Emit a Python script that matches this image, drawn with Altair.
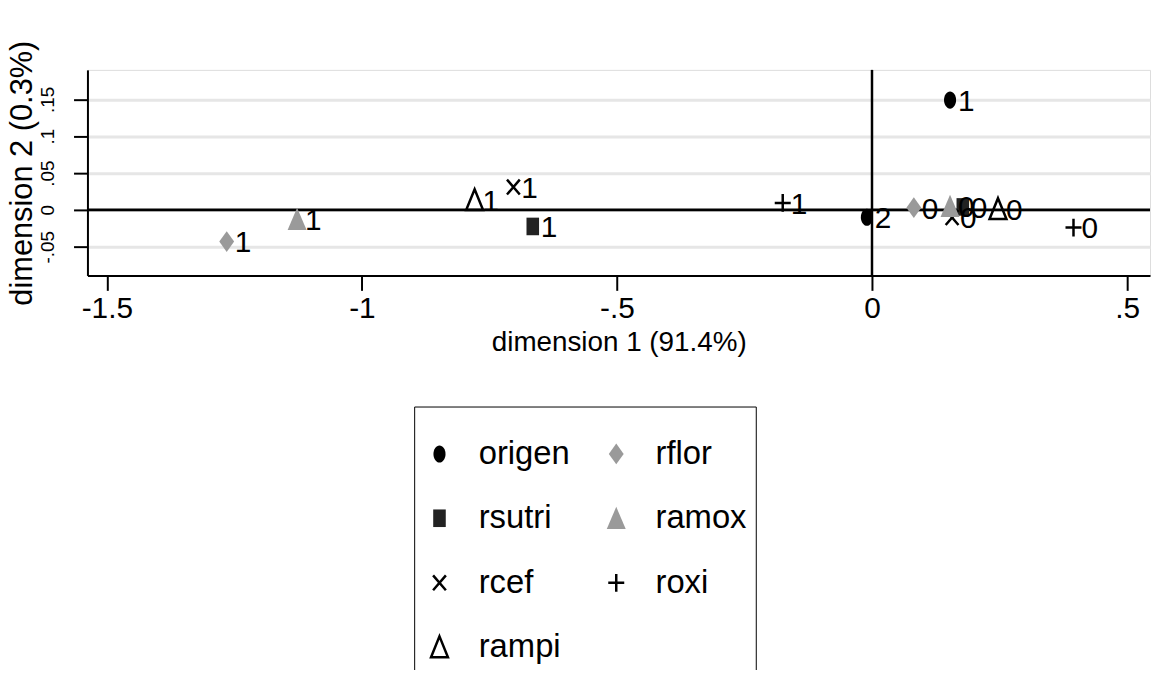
import altair as alt
import pandas as pd

# ---- data ----
series = ["origen", "origen", "rsutri", "rsutri", "rcef", "rcef", "rampi", "rampi",
          "rflor", "rflor", "ramox", "ramox", "roxi", "roxi"]
point_labels = ["1", "2", "1", "0", "1", "0", "1", "0", "1", "0", "1", "0", "1", "0"]
dim1 = [0.153, -0.010, -0.665, 0.178, -0.703, 0.157, -0.779, 0.247,
        -1.265, 0.082, -1.127, 0.153, -0.175, 0.395]
dim2 = [0.149, -0.010, -0.0225, 0.004, 0.031, -0.0104, 0.013, 0.001,
        -0.043, 0.003, -0.0125, 0.005, 0.0094, -0.024]

legend_order = ["origen", "rsutri", "rcef", "rampi", "rflor", "ramox", "roxi"]

x_ticks = [-1.5, -1, -0.5, 0, 0.5]
x_tick_labels = ["-1.5", "-1", "-.5", "0", ".5"]
y_ticks = [-0.05, 0, 0.05, 0.1, 0.15]
y_tick_labels = ["-.05", "0", ".05", ".1", ".15"]

x_title = "dimension 1 (91.4%)"
y_title = "dimension 2 (0.3%)"

# ---- styling ----
FONT = "Liberation Sans"
SYM = 529  # symbol size; paths below are drawn relative to it

shape_map = {
    "origen": "M-0.53,0A0.53,0.75,0,1,1,0.53,0A0.53,0.75,0,1,1,-0.53,0Z",
    "rsutri": "M-0.55,-0.77L0.55,-0.77L0.55,0.77L-0.55,0.77Z",
    "rcef": "M-0.56,-0.65L0.56,0.65M0.56,-0.65L-0.56,0.65",
    "rampi": "M0,-0.96L0.74,0.86L-0.74,0.86Z",
    "rflor": "M0,-0.91L0.65,0L0,0.91L-0.65,0Z",
    "ramox": "M0,-1L0.83,0.95L-0.83,0.95Z",
    "roxi": "M-0.7,0L0.7,0M0,-0.78L0,0.78",
}
fill_map = {"origen": "#000000", "rsutri": "#222222", "rcef": "transparent",
            "rampi": "transparent", "rflor": "#9a9a9a", "ramox": "#9a9a9a",
            "roxi": "transparent"}
stroke_map = {"origen": "transparent", "rsutri": "transparent", "rcef": "#000000",
              "rampi": "#000000", "rflor": "transparent", "ramox": "transparent",
              "roxi": "#000000"}

df = pd.DataFrame({"series": series, "lab": point_labels, "d1": dim1, "d2": dim2})
one = pd.DataFrame({"k": [0]})


def label_expr(vals, labs):
    e = "''"
    for v, l in reversed(list(zip(vals, labs))):
        e = f"abs(datum.value - ({v})) < 1e-9 ? '{l}' : {e}"
    return e


xscale = alt.Scale(domain=[-1.538, 0.545], nice=False, zero=False)
yscale = alt.Scale(domain=[-0.089, 0.19], nice=False, zero=False)

xaxis = alt.Axis(values=x_ticks, labelExpr=label_expr(x_ticks, x_tick_labels),
                 grid=False, domainColor="black", domainWidth=2, tickColor="black",
                 tickWidth=2, tickSize=15, labelFont=FONT, labelFontSize=30,
                 labelColor="black", labelPadding=3, labelFlush=False,
                 title=x_title, titleFont=FONT, titleFontSize=28,
                 titleFontWeight="normal", titleColor="black", titlePadding=6)
yaxis = alt.Axis(values=y_ticks, labelExpr=label_expr(y_ticks, y_tick_labels),
                 grid=True, gridColor="#e6e6e6", gridWidth=3,
                 domainColor="black", domainWidth=2, tickColor="black",
                 tickWidth=2, tickSize=14, labelFont=FONT, labelFontSize=19,
                 labelColor="black", labelAngle=-90, labelAlign="center",
                 labelBaseline="bottom", labelPadding=16, labelFlush=False,
                 title=y_title, titleFont=FONT, titleFontSize=31,
                 titleFontWeight="normal", titleColor="black", titlePadding=0)

leg = alt.Legend(title=" ", titleFontSize=16, titlePadding=6,
                 orient="none", legendX=329, legendY=339, columns=2,
                 strokeColor="black", padding=9, symbolSize=SYM,
                 symbolStrokeWidth=2.5, symbolOpacity=1,
                 labelFont=FONT, labelFontSize=33, labelColor="black",
                 labelOffset=23, rowPadding=31, columnPadding=30)

dom = legend_order
points = alt.Chart(df).mark_point(opacity=1, strokeWidth=2.5, size=SYM).encode(
    x=alt.X("d1:Q", scale=xscale, axis=xaxis),
    y=alt.Y("d2:Q", scale=yscale, axis=yaxis),
    shape=alt.Shape("series:N", scale=alt.Scale(domain=dom, range=[shape_map[s] for s in dom]), legend=leg),
    fill=alt.Fill("series:N", scale=alt.Scale(domain=dom, range=[fill_map[s] for s in dom]), legend=leg),
    stroke=alt.Stroke("series:N", scale=alt.Scale(domain=dom, range=[stroke_map[s] for s in dom]), legend=leg),
)

texts = alt.Chart(df).mark_text(align="left", baseline="middle", dx=8, dy=2,
                                font=FONT, fontSize=30, color="black").encode(
    x=alt.X("d1:Q", scale=xscale),
    y=alt.Y("d2:Q", scale=yscale),
    text="lab:N",
)

zero_h = alt.Chart(one).mark_rule(color="black", strokeWidth=3).encode(y=alt.YDatum(0))
zero_v = alt.Chart(one).mark_rule(color="black", strokeWidth=2.5).encode(x=alt.XDatum(0))

chart = alt.layer(zero_h, zero_v, points, texts).properties(
    width=1070, height=207,
    padding={"left": 80, "top": 60, "right": 2, "bottom": 395},
    autosize=alt.AutoSizeParams(type="none"),
).configure_view(stroke=None).configure(background="white")

chart.save("out.html", embed_options={"renderer": "svg", "actions": False})
